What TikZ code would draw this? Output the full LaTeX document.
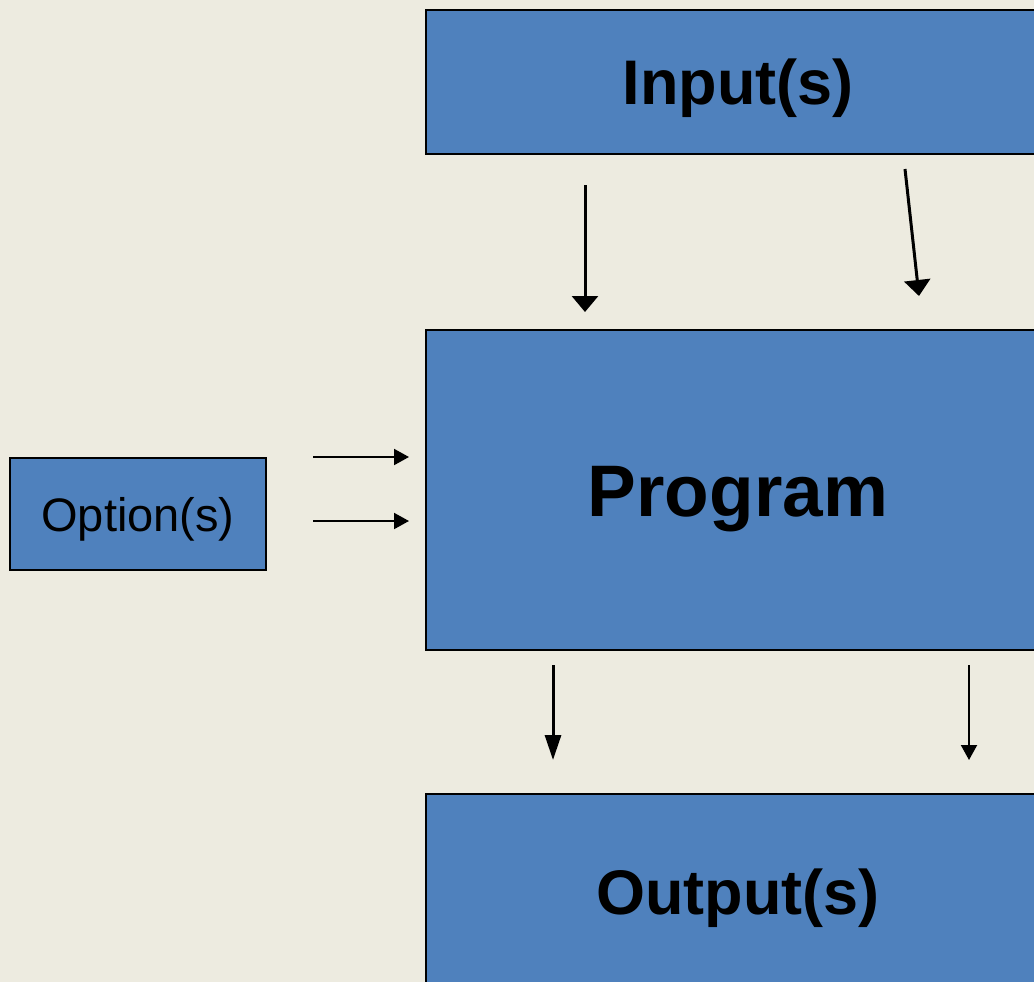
\documentclass[tikz,border=0pt]{standalone}
\usepackage{fontspec}
\setmainfont{Liberation Sans}
\usetikzlibrary{arrows.meta}
\definecolor{bg}{HTML}{EDEBE0}
\definecolor{boxblue}{HTML}{4F81BD}
\tikzset{
  bluebox/.style={draw=black, line width=2pt, fill=boxblue, inner sep=0pt, anchor=north west},
  boxtext/.style={inner sep=0pt},
  bigarrow/.style={line width=3pt, -{Triangle[length=16pt, width=26pt]}},
  smallarrow/.style={line width=2pt, -{Triangle[length=15pt, width=16pt]}},
  tallarrow/.style={line width=3pt, -{Triangle[length=25pt, width=16pt]}},
}
\begin{document}
\begin{tikzpicture}[x=1pt, y=-1pt]
\useasboundingbox (0,0) rectangle (1034,982);
\fill[bg] (0,0) rectangle (1034,982);
\clip (0,0) rectangle (1034,982);
% boxes
\node[bluebox, minimum width=624pt, minimum height=144pt,
  label={[boxtext, yshift=-6pt, font=\fontsize{63}{70}\selectfont\bfseries]center:Input(s)}] (in) at (425,9) {};
\node[bluebox, minimum width=624pt, minimum height=320pt,
  label={[boxtext, yshift=-9pt, font=\fontsize{73}{80}\selectfont\bfseries]center:Program}] (prog) at (425,329) {};
\node[bluebox, minimum width=624pt, minimum height=200pt,
  label={[boxtext, yshift=-4pt, font=\fontsize{63}{70}\selectfont\bfseries]center:Output(s)}] (out) at (425,793) {};
\node[bluebox, minimum width=256pt, minimum height=112pt,
  label={[boxtext, yshift=-5pt, font=\fontsize{47}{54}\selectfont]center:Option(s)}] (opt) at (9,457) {};
% connector end points
\coordinate (a1s) at (585,185);  \coordinate (a1e) at (585,312);
\coordinate (a2s) at (905,169);  \coordinate (a2e) at (919,296);
\coordinate (o1s) at (313,457);  \coordinate (o1e) at (409,457);
\coordinate (o2s) at (313,521);  \coordinate (o2e) at (409,521);
\coordinate (b1s) at (553,665);  \coordinate (b1e) at (553,760);
\coordinate (b2s) at (969,665);  \coordinate (b2e) at (969,760);
% connectors
\draw[bigarrow] (a1s) -- (a1e);
\draw[bigarrow] (a2s) -- (a2e);
\draw[smallarrow] (o1s) -- (o1e);
\draw[smallarrow] (o2s) -- (o2e);
\draw[tallarrow] (b1s) -- (b1e);
\draw[smallarrow] (b2s) -- (b2e);
\end{tikzpicture}
\end{document}
